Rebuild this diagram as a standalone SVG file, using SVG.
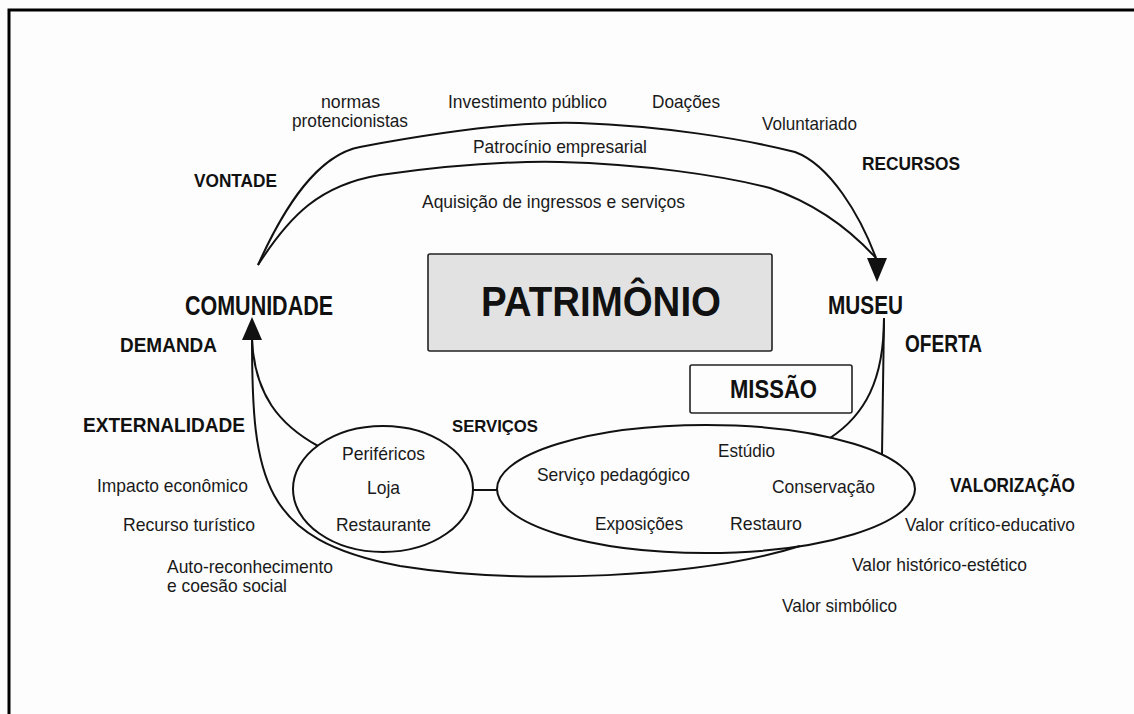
<svg xmlns="http://www.w3.org/2000/svg" width="1134" height="714" viewBox="0 0 1134 714">
<style>
.t{font-family:"Liberation Sans",Arial,sans-serif;font-size:18.5px;fill:#1a1a1a}
.b{font-family:"Liberation Sans",Arial,sans-serif;font-weight:bold;fill:#111}
.ln{fill:none;stroke:#111;stroke-width:2}
.box{stroke:#222;stroke-width:1.6}
</style>
<rect x="0" y="0" width="1134" height="714" fill="#fdfdfd"/>
<path d="M9 714 V10 H1134" fill="none" stroke="#000" stroke-width="3"/>

<g id="connectors">
<path class="ln" d="M258 265 C285 205,318 155,360 147 C440 132,520 121,580 123 C660 126,740 138,795 152 C830 165,860 215,876 258"/>
<path class="ln" d="M258 265 C290 215,320 185,380 175 C450 165,510 161,560 162 C640 164,720 175,770 188 C820 205,855 235,876 258"/>
<polygon points="867,258 887,258 877,282" fill="#111"/>
<path class="ln" d="M252 338 C252 480,262 540,400 566 C520 585,700 578,800 546"/>
<path class="ln" d="M318 446 C280 425,254 395,252 338"/>
<polygon points="242,340 262,340 252,317" fill="#111"/>
<path class="ln" d="M884 318 C884 380,865 415,830 438"/>
<path class="ln" d="M884 318 L882 455"/>
<path class="ln" d="M473 490 L497 490"/>
</g>

<g id="patrimonio">
<rect class="box" x="428" y="254" width="344" height="97" fill="#e2e2e2" rx="2"/>
<text class="b" x="481" y="316" font-size="43" textLength="240" lengthAdjust="spacingAndGlyphs">PATRIMÔNIO</text>
</g>
<g id="missao">
<rect class="box" x="690" y="365" width="162" height="48" fill="#fdfdfd" rx="2"/>
<text class="b" x="730" y="398" font-size="25" textLength="87" lengthAdjust="spacingAndGlyphs">MISSÃO</text>
</g>
<g id="comunidade">
<text class="b" x="185" y="315" font-size="27" textLength="148" lengthAdjust="spacingAndGlyphs">COMUNIDADE</text>
</g>
<g id="museu">
<text class="b" x="828" y="314" font-size="26" textLength="75" lengthAdjust="spacingAndGlyphs">MUSEU</text>
</g>

<g id="perifericos">
<ellipse class="ln" cx="383" cy="489" rx="90" ry="63"/>
<text class="t" x="342" y="460" textLength="83" lengthAdjust="spacingAndGlyphs">Periféricos</text>
<text class="t" x="367" y="494" textLength="33" lengthAdjust="spacingAndGlyphs">Loja</text>
<text class="t" x="336" y="531" textLength="95" lengthAdjust="spacingAndGlyphs">Restaurante</text>
</g>
<g id="servicos-core">
<ellipse class="ln" cx="706" cy="489" rx="209" ry="64"/>
<text class="t" x="718" y="457" textLength="57" lengthAdjust="spacingAndGlyphs">Estúdio</text>
<text class="t" x="537" y="481" textLength="153" lengthAdjust="spacingAndGlyphs">Serviço pedagógico</text>
<text class="t" x="772" y="493" textLength="103" lengthAdjust="spacingAndGlyphs">Conservação</text>
<text class="t" x="595" y="530" textLength="88" lengthAdjust="spacingAndGlyphs">Exposições</text>
<text class="t" x="730" y="530" textLength="72" lengthAdjust="spacingAndGlyphs">Restauro</text>
</g>

<g id="labels">
<text class="b" x="194" y="187" font-size="18" textLength="83" lengthAdjust="spacingAndGlyphs">VONTADE</text>
<text class="b" x="862" y="170" font-size="18" textLength="98" lengthAdjust="spacingAndGlyphs">RECURSOS</text>
<text class="b" x="120" y="352" font-size="21" textLength="97" lengthAdjust="spacingAndGlyphs">DEMANDA</text>
<text class="b" x="905" y="352" font-size="23" textLength="77" lengthAdjust="spacingAndGlyphs">OFERTA</text>
<text class="b" x="83" y="432" font-size="21" textLength="162" lengthAdjust="spacingAndGlyphs">EXTERNALIDADE</text>
<text class="b" x="452" y="432" font-size="17" textLength="86" lengthAdjust="spacingAndGlyphs">SERVIÇOS</text>
<text class="b" x="950" y="492" font-size="21" textLength="125" lengthAdjust="spacingAndGlyphs">VALORIZAÇÃO</text>

<text class="t" x="321" y="108" textLength="59" lengthAdjust="spacingAndGlyphs">normas</text>
<text class="t" x="292" y="127" textLength="116" lengthAdjust="spacingAndGlyphs">protencionistas</text>
<text class="t" x="448" y="108" textLength="159" lengthAdjust="spacingAndGlyphs">Investimento público</text>
<text class="t" x="652" y="108" textLength="68" lengthAdjust="spacingAndGlyphs">Doações</text>
<text class="t" x="762" y="130" textLength="95" lengthAdjust="spacingAndGlyphs">Voluntariado</text>
<text class="t" x="473" y="153" textLength="174" lengthAdjust="spacingAndGlyphs">Patrocínio empresarial</text>
<text class="t" x="422" y="208" textLength="263" lengthAdjust="spacingAndGlyphs">Aquisição de ingressos e serviços</text>

<text class="t" x="97" y="492" textLength="151" lengthAdjust="spacingAndGlyphs">Impacto econômico</text>
<text class="t" x="123" y="531" textLength="132" lengthAdjust="spacingAndGlyphs">Recurso turístico</text>
<text class="t" x="167" y="573" textLength="166" lengthAdjust="spacingAndGlyphs">Auto-reconhecimento</text>
<text class="t" x="167" y="592" textLength="120" lengthAdjust="spacingAndGlyphs">e coesão social</text>

<text class="t" x="905" y="531" textLength="170" lengthAdjust="spacingAndGlyphs">Valor crítico-educativo</text>
<text class="t" x="852" y="571" textLength="175" lengthAdjust="spacingAndGlyphs">Valor histórico-estético</text>
<text class="t" x="782" y="612" textLength="115" lengthAdjust="spacingAndGlyphs">Valor simbólico</text>
</g>
</svg>
